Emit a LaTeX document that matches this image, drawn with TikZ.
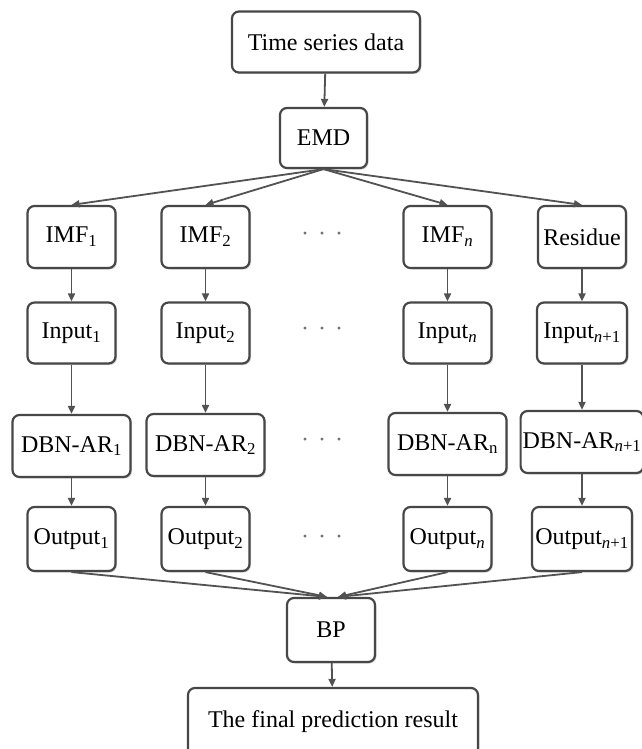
\documentclass[tikz,border=0pt]{standalone}
\usepackage{fontspec}
\setmainfont{Liberation Serif}
\usetikzlibrary{arrows.meta,shadows}
\tikzset{
  box/.style={draw=black!72,line width=2.2pt,rounded corners=7pt,fill=white,
    drop shadow={shadow xshift=1.5pt,shadow yshift=-1.5pt,fill=black!25,opacity=.6},
    minimum width=88pt,minimum height=62pt,inner sep=2pt},
  link/.style={draw=black!68,line width=1.8pt,-{Triangle[length=8pt,width=7pt]}},
  dots/.style={text=black!55}
}
\newcommand{\ddd}{\textperiodcentered\hspace{9pt}\textperiodcentered\hspace{9pt}\textperiodcentered}
\begin{document}
\begin{tikzpicture}[x=1pt,y=-1pt,font=\fontsize{24}{28}\selectfont]
\useasboundingbox (0,0) rectangle (641,749);

\node[box,minimum width=188pt,minimum height=61pt] (ts) at (326,42) {Time series data};
\node[box,minimum width=87pt,minimum height=60pt] (emd) at (323.5,138) {EMD};
\draw[link] (ts) -- (emd);

\node[box] (imf1) at (71.5,237) {IMF\textsubscript{1}};
\node[box] (imf2) at (205.5,237) {IMF\textsubscript{2}};
\node[box] (imfn) at (447.5,237) {IMF\textsubscript{\textit{n}}};
\node[box] (res) at (582,237) {Residue};
\node[dots] (dots1) at (322,237) {\ddd};

\draw[link] (emd.south) -- (imf1.north);
\draw[link] (emd.south) -- (imf2.north);
\draw[link] (emd.south) -- (imfn.north);
\draw[link] (emd.south) -- (res.north);

\node[box,minimum height=61pt] (in1) at (71.5,333) {Input\textsubscript{1}};
\node[box,minimum height=61pt] (in2) at (205.5,333) {Input\textsubscript{2}};
\node[box,minimum height=61pt] (inn) at (447.5,333) {Input\textsubscript{\textit{n}}};
\node[box,minimum width=90pt,minimum height=61pt] (in4) at (582,333) {Input\textsubscript{\textit{n}+1}};
\node[dots] (dots2) at (322,332) {\ddd};

\draw[link] (imf1) -- (in1);
\draw[link] (imf2) -- (in2);
\draw[link] (imfn) -- (inn);
\draw[link] (res) -- (in4);

\node[box,minimum width=118pt] (dbn1) at (71.5,446) {DBN-AR\textsubscript{1}};
\node[box,minimum width=118pt] (dbn2) at (205.5,445) {DBN-AR\textsubscript{2}};
\node[box,minimum width=118pt] (dbnn) at (447.5,444) {DBN-AR\textsubscript{n}};
\node[box,minimum width=116pt] (dbn4) at (582,442) {DBN-AR\textsubscript{\textit{n}+1}};
\node[dots] (dots3) at (322,443) {\ddd};

\draw[link] (in1) -- (dbn1);
\draw[link] (in2) -- (dbn2);
\draw[link] (inn) -- (dbnn);
\draw[link] (in4) -- (dbn4);

\node[box,minimum height=64pt] (out1) at (71.5,539) {Output\textsubscript{1}};
\node[box,minimum height=64pt] (out2) at (205.5,539) {Output\textsubscript{2}};
\node[box,minimum height=64pt] (outn) at (447.5,539) {Output\textsubscript{\textit{n}}};
\node[box,minimum width=100pt,minimum height=64pt] (out4) at (582,539) {Output\textsubscript{\textit{n}+1}};
\node[dots] (dots4) at (322,540) {\ddd};

\draw[link] (dbn1) -- (out1);
\draw[link] (dbn2) -- (out2);
\draw[link] (dbnn) -- (outn);
\draw[link] (dbn4) -- (out4);

\node[box,minimum height=64pt] (bp) at (331,630) {BP};
\draw[link] (out1.south) -- ([xshift=-4pt]bp.north);
\draw[link] (out2.south) -- ([xshift=-4pt]bp.north);
\draw[link] (outn.south) -- ([xshift=7pt]bp.north);
\draw[link] (out4.south) -- ([xshift=7pt]bp.north);

\node[box,minimum width=290pt,minimum height=68pt] (final) at (333,722) {The final prediction result};
\draw[link] (bp) -- (final);
\end{tikzpicture}
\end{document}
